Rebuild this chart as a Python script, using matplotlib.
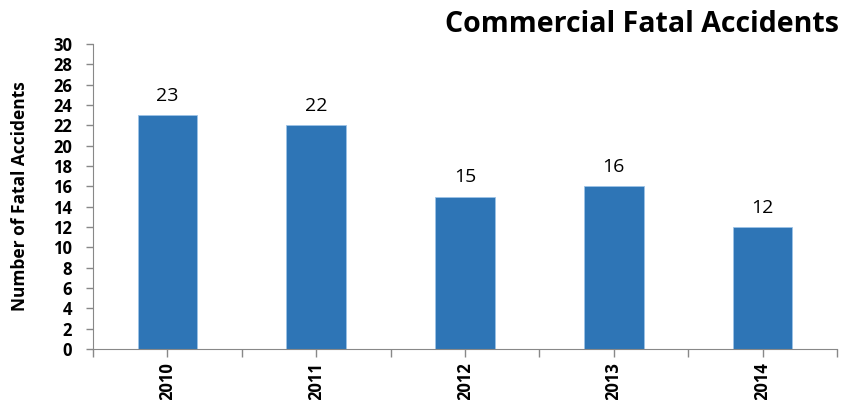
import matplotlib.pyplot as plt
from matplotlib.ticker import MultipleLocator, FixedLocator

years = ["2010", "2011", "2012", "2013", "2014"]
accidents = [23, 22, 15, 16, 12]

plt.rcParams["font.family"] = ["Open Sans", "DejaVu Sans"]

fig = plt.figure(figsize=(8.54, 4.0), dpi=100)
ax = fig.add_axes([0.109, 0.1275, 0.871, 0.7625])

x = list(range(len(years)))
bars = ax.bar(x, accidents, width=0.4, color="#2E75B6", edgecolor="#9DC3E6", linewidth=0.6)

# value labels above each bar
for xi, v in zip(x, accidents):
    ax.text(xi, v + 1.0, str(v), ha="center", va="bottom", fontsize=14)

ax.set_xlim(-0.5, len(years) - 0.5)
ax.set_ylim(0, 30)
ax.yaxis.set_major_locator(MultipleLocator(2))
ax.set_xticks(x)
ax.set_xticklabels(years, rotation=90, fontsize=12, fontweight="bold")
ax.xaxis.set_minor_locator(FixedLocator([i - 0.5 for i in range(len(years) + 1)]))
for lbl in ax.get_yticklabels():
    lbl.set_fontweight("bold")
    lbl.set_fontsize(12)

ax.tick_params(axis="both", which="both", direction="out", color="#888888", length=5, width=1)
ax.tick_params(axis="y", pad=10)
ax.tick_params(axis="x", which="both", length=6)
for side in ["top", "right"]:
    ax.spines[side].set_visible(False)
for side in ["left", "bottom"]:
    ax.spines[side].set_color("#888888")

ax.set_ylabel("Number of Fatal Accidents", fontsize=12.5, fontweight="bold")
ax.yaxis.set_label_coords(-0.086, 0.5)
fig.text(0.982, 0.94, "Commercial Fatal Accidents", ha="right", va="center",
         fontsize=20.5, fontweight="bold")

fig.savefig("out.png", dpi=100)
